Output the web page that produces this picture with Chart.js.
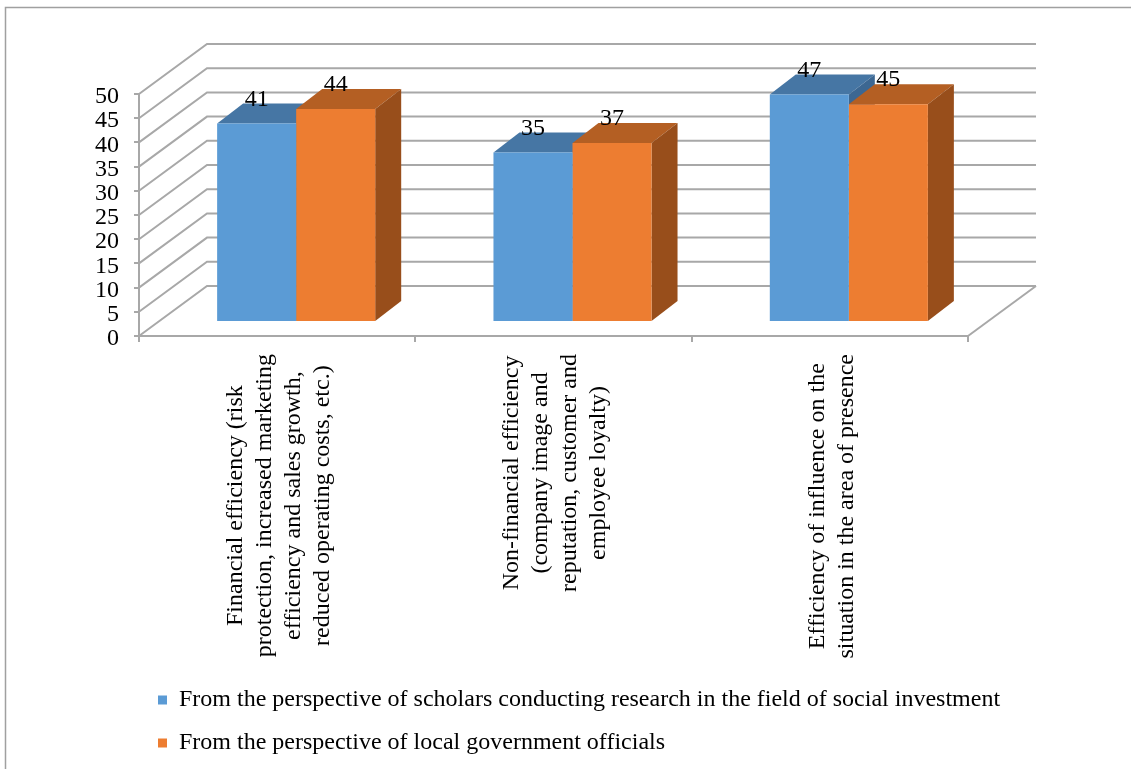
<!DOCTYPE html>
<html>
<head>
<meta charset="utf-8">
<script src="https://cdn.jsdelivr.net/npm/chart.js@4/dist/chart.umd.min.js"></script>
<style>
  html, body { margin: 0; padding: 0; background: #fff; }
  canvas { display: block; }
</style>
</head>
<body>
<canvas id="chart" width="1131" height="769"></canvas>
<script>
// Categories (each label split into its display lines)
const categories = [
  ['Financial efficiency (risk', 'protection, increased marketing', 'efficiency and sales growth,', 'reduced operating costs, etc.)'],
  ['Non-financial efficiency', '(company image and', 'reputation, customer and', 'employee loyalty)'],
  ['Efficiency of influence on the', 'situation in the area of presence']
];
const seriesNames = [
  'From the perspective of scholars conducting research in the field of social investment',
  'From the perspective of local government officials'
];
const scholarsValues = [41, 35, 47];
const officialsValues = [44, 37, 45];
const yMin = 0, yMax = 50, yStep = 5;

const SERIF = '"Liberation Serif", "Times New Roman", serif';
const GRID = '#A8A8A8';
const WALL = { x: 68, y: -50 };      // back wall offset from the front plane
const SHIFT = { x: 19, y: -14 };     // where the bar fronts sit inside the box
const DEPTH = { x: 26, y: -20 };     // bar depth

const faceColors = [
  { top: '#4676A4', side: '#3C6792' },
  { top: '#B45F23', side: '#984E1B' }
];

function poly(ctx, pts) {
  ctx.beginPath();
  ctx.moveTo(pts[0][0], pts[0][1]);
  for (let i = 1; i < pts.length; i++) ctx.lineTo(pts[i][0], pts[i][1]);
  ctx.closePath();
  ctx.fill();
}

const box3d = {
  id: 'box3d',
  afterLayout(chart) {
    // let the legend rows run past the plot's right edge
    const lg = chart.legend;
    if (lg) { lg.right = chart.width; lg.width = lg.right - lg.left; }
  },
  beforeDraw(chart) {
    const ctx = chart.ctx;
    ctx.save();
    ctx.strokeStyle = '#A0A0A0';
    ctx.lineWidth = 1.5;
    ctx.strokeRect(5.5, 7.5, 1140, 780);
    ctx.restore();
  },
  beforeDatasetsDraw(chart) {
    const { ctx, chartArea: a, scales } = chart;
    const y = scales.y;
    // side wall and back wall grid
    ctx.save();
    ctx.strokeStyle = GRID;
    ctx.lineWidth = 2;
    y.ticks.forEach(t => {
      const py = y.getPixelForValue(t.value);
      ctx.beginPath();
      ctx.moveTo(a.left, py);
      ctx.lineTo(a.left + WALL.x, py + WALL.y);
      ctx.lineTo(a.right + WALL.x, py + WALL.y);
      ctx.stroke();
    });
    // floor right edge
    ctx.beginPath();
    ctx.moveTo(a.right, a.bottom);
    ctx.lineTo(a.right + WALL.x, a.bottom + WALL.y);
    ctx.stroke();
    ctx.restore();

    // bar tops and sides, then fronts are drawn by Chart.js in the same shifted frame
    ctx.save();
    ctx.translate(SHIFT.x, SHIFT.y);
    chart.data.datasets.forEach((ds, di) => {
      const meta = chart.getDatasetMeta(di);
      const c = faceColors[di];
      meta.data.forEach(bar => {
        const p = bar.getProps(['x', 'y', 'base', 'width'], true);
        const L = p.x - p.width / 2, R = p.x + p.width / 2;
        ctx.fillStyle = c.top;
        poly(ctx, [[L, p.y], [R, p.y], [R + DEPTH.x, p.y + DEPTH.y], [L + DEPTH.x, p.y + DEPTH.y]]);
        ctx.fillStyle = c.side;
        poly(ctx, [[R, p.y], [R + DEPTH.x, p.y + DEPTH.y], [R + DEPTH.x, p.base + DEPTH.y], [R, p.base]]);
      });
    });
  },
  afterDatasetsDraw(chart) {
    const ctx = chart.ctx;
    ctx.restore();
    // value labels
    ctx.save();
    ctx.fillStyle = '#000';
    ctx.font = '24px ' + SERIF;
    ctx.textAlign = 'center';
    ctx.textBaseline = 'middle';
    chart.data.datasets.forEach((ds, di) => {
      const meta = chart.getDatasetMeta(di);
      meta.data.forEach((bar, i) => {
        const p = bar.getProps(['x', 'y'], true);
        ctx.fillText(String(ds.data[i]), p.x + SHIFT.x, p.y + SHIFT.y - 24);
      });
    });
    ctx.restore();
  },
  afterDraw(chart) {
    const { ctx, scales, chartArea: a } = chart;
    const x = scales.x;
    const lh = 29;
    ctx.save();
    ctx.fillStyle = '#000';
    ctx.font = '24px ' + SERIF;
    ctx.textAlign = 'center';
    ctx.textBaseline = 'middle';
    categories.forEach((lines, i) => {
      const cx = x.getPixelForValue(i) + 2;
      const w = Math.max(...lines.map(l => ctx.measureText(l).width));
      ctx.save();
      ctx.translate(cx, a.bottom + 18);
      ctx.rotate(-Math.PI / 2);
      lines.forEach((l, j) => {
        ctx.fillText(l, -w / 2, (j - (lines.length - 1) / 2) * lh);
      });
      ctx.restore();
    });
    ctx.restore();
  }
};

new Chart(document.getElementById('chart'), {
  type: 'bar',
  data: {
    labels: categories,
    datasets: [
      { label: seriesNames[0], data: scholarsValues, backgroundColor: '#5B9BD5', borderWidth: 0,
        barPercentage: 1, categoryPercentage: 0.572, clip: false },
      { label: seriesNames[1], data: officialsValues, backgroundColor: '#ED7D31', borderWidth: 0,
        barPercentage: 1, categoryPercentage: 0.572, clip: false }
    ]
  },
  options: {
    responsive: false,
    animation: false,
    devicePixelRatio: 1,
    layout: { padding: { left: 0, top: 94, right: 163, bottom: 4 } },
    plugins: {
      legend: {
        position: 'bottom',
        align: 'start',
        fullSize: false,
        labels: {
          boxWidth: 9, boxHeight: 9, padding: 19, color: '#000',
          font: { family: SERIF, size: 24 }
        }
      },
      tooltip: { enabled: false }
    },
    scales: {
      x: {
        grid: { display: true, drawOnChartArea: false, drawTicks: true, tickLength: 6, color: GRID, lineWidth: 2 },
        border: { display: true, color: GRID, width: 2 },
        ticks: { display: false },
        afterFit(s) { s.height = 333; }
      },
      y: {
        min: yMin, max: yMax,
        ticks: { stepSize: yStep, autoSkip: false, color: '#000', font: { family: SERIF, size: 24 }, padding: 15, labelOffset: 3 },
        grid: { drawOnChartArea: false, drawTicks: true, tickLength: 5, color: GRID, lineWidth: 2 },
        border: { display: true, color: GRID, width: 2 },
        afterFit(s) { s.width = 139; }
      }
    }
  },
  plugins: [box3d]
});
</script>
</body>
</html>
